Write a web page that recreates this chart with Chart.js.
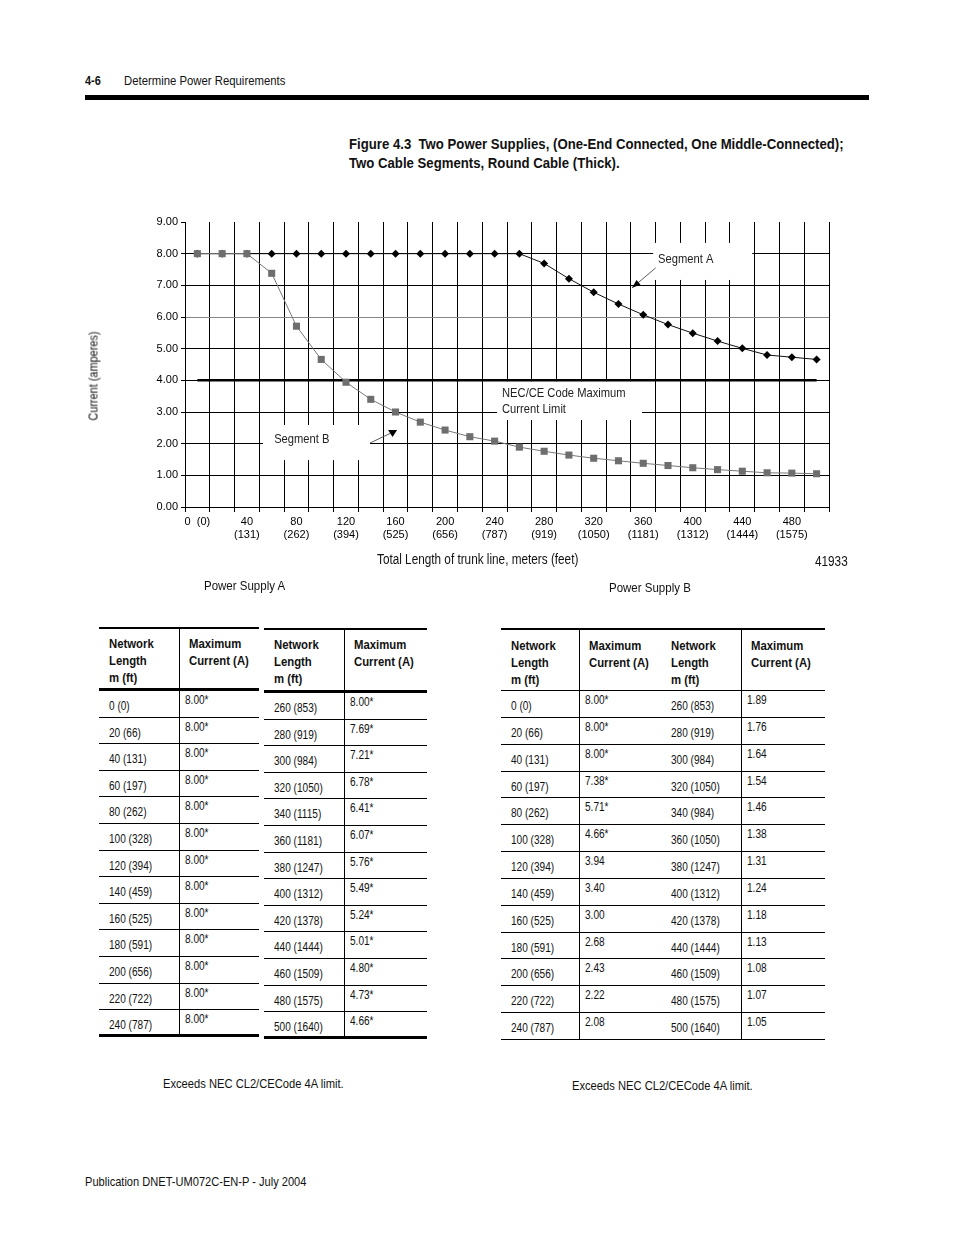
<!DOCTYPE html>
<html>
<head>
<meta charset="utf-8">
<script src="https://cdn.jsdelivr.net/npm/chart.js@4.4.0/dist/chart.umd.min.js"></script>
<style>
  body { margin: 0; background: #fff; }
  #page { position: relative; width: 954px; height: 1235px; overflow: hidden;
          font-family: "Liberation Sans", Arial, sans-serif; color: #111; }
  .t { position: absolute; white-space: nowrap; line-height: 1; transform: scaleX(0.84); transform-origin: 0 0; }
  #rule { position: absolute; left: 85px; top: 95px; width: 784px; height: 5px; background: #000; }
  #chartBox { position: absolute; left: 80px; top: 200px; width: 780px; height: 380px; }
  .tbl { position: absolute; }
  .tbl .hd { position: relative; box-sizing: border-box; font-weight: bold; font-size: 13.5px; line-height: 17px; }
  .tbl .row { position: relative; box-sizing: border-box; border-bottom: 1px solid #000; font-size: 12px; }
  .tbl span { position: absolute; white-space: nowrap; transform: scaleX(0.84); transform-origin: 0 0; }
  .vline { position: absolute; width: 1px; background: #000; }
</style>
</head>
<body>
<div id="page">
  <div class="t" style="left:85px;top:74px;font-size:13px;font-weight:bold;">4-6</div>
  <div class="t" style="left:124px;top:74px;font-size:13.5px;">Determine Power Requirements</div>
  <div id="rule"></div>
  <div class="t" style="left:349px;top:134px;font-size:15.5px;font-weight:bold;line-height:19px;transform:scaleX(0.85);">Figure 4.3&nbsp; Two Power Supplies, (One-End Connected, One Middle-Connected);<br>Two Cable Segments, Round Cable (Thick).</div>

  <div id="chartBox"><canvas id="chart" width="780" height="380"></canvas></div>
  <div class="t" style="left:93px;top:376px;font-size:13px;transform-origin:50% 50%;transform:translate(-50%,-50%) rotate(-90deg) scaleX(0.84);">Current (amperes)</div>
  <div class="t" style="left:377px;top:552px;font-size:14px;">Total Length of trunk line, meters (feet)</div>
  <div class="t" style="left:815px;top:554px;font-size:14px;">41933</div>
  <div class="t" style="left:204px;top:579px;font-size:13.7px;">Power Supply A</div>
  <div class="t" style="left:609px;top:581px;font-size:13.7px;">Power Supply B</div>

  <div id="tables"></div>

  <div class="t" style="left:163px;top:1077px;font-size:13.3px;">Exceeds NEC CL2/CECode 4A limit.</div>
  <div class="t" style="left:572px;top:1079px;font-size:13.3px;">Exceeds NEC CL2/CECode 4A limit.</div>
  <div class="t" style="left:85px;top:1175px;font-size:13.2px;">Publication DNET-UM072C-EN-P - July 2004</div>
</div>

<script>
const meters = [0, 20, 40, 60, 80, 100, 120, 140, 160, 180, 200, 220, 240,
                260, 280, 300, 320, 340, 360, 380, 400, 420, 440, 460, 480, 500];
const feet = [0, 66, 131, 197, 262, 328, 394, 459, 525, 591, 656, 722, 787,
              853, 919, 984, 1050, 1115, 1181, 1247, 1312, 1378, 1444, 1509, 1575, 1640];
const segmentA = [8.00, 8.00, 8.00, 8.00, 8.00, 8.00, 8.00, 8.00, 8.00, 8.00, 8.00, 8.00, 8.00,
                  8.00, 7.69, 7.21, 6.78, 6.41, 6.07, 5.76, 5.49, 5.24, 5.01, 4.80, 4.73, 4.66];
const segmentB = [8.00, 8.00, 8.00, 7.38, 5.71, 4.66, 3.94, 3.40, 3.00, 2.68, 2.43, 2.22, 2.08,
                  1.89, 1.76, 1.64, 1.54, 1.46, 1.38, 1.31, 1.24, 1.18, 1.13, 1.08, 1.07, 1.05];
const necLimit = 4.00;
const yMin = 0, yMax = 9, yStep = 1;
// labels as printed in the Power Supply B table (the source repeats some feet values)
const psbFeetLabels = { 340: "340 (984)", 360: "360 (1050)" };

// notes drawn on the plot, in axis units (category index, amperes)
const notes = [
  { box: [18.4, 22.4, 8.34, 7.17], lines: [["Segment A", 18.6, 7.82]],
    arrow: { from: [18.5, 7.55], to: [17.55, 6.92], head: "arrow" } },
  { box: [2.65, 6.97, 2.59, 1.48], lines: [["Segment B", 3.1, 2.15]],
    arrow: { from: [6.97, 2.02], to: [7.8, 2.33], head: "tri", tip: [7.88, 2.21] } },
  { box: [12.1, 17.95, 3.97, 2.75],
    lines: [["NEC/CE Code Maximum", 12.3, 3.6], ["Current Limit", 12.3, 3.08]] }
];

const notePlugin = {
  id: "notes",
  beforeDatasetsDraw(chart) {
    const { ctx, scales: { x, y } } = chart;
    const px = v => x.getPixelForValue(v), py = v => y.getPixelForValue(v);
    ctx.save();
    notes.forEach(n => {
      const l = px(n.box[0]), r = px(n.box[1]), t = py(n.box[2]), b = py(n.box[3]);
      ctx.fillStyle = "#fff";
      ctx.fillRect(l, t, r - l, b - t);
      ctx.fillStyle = "#222";
      ctx.font = '13.3px "Liberation Sans", Arial, sans-serif';
      ctx.textBaseline = "middle";
      n.lines.forEach(([txt, xv, yv]) => {
        ctx.save();
        ctx.translate(px(xv), py(yv));
        ctx.scale(0.84, 1);
        ctx.fillText(txt, 0, 0);
        ctx.restore();
      });
      if (n.arrow) {
        const x1 = px(n.arrow.from[0]), y1 = py(n.arrow.from[1]);
        const x2 = px(n.arrow.to[0]), y2 = py(n.arrow.to[1]);
        ctx.strokeStyle = "#333";
        ctx.lineWidth = 0.8;
        ctx.beginPath(); ctx.moveTo(x1, y1); ctx.lineTo(x2, y2); ctx.stroke();
        ctx.fillStyle = "#000";
        ctx.beginPath();
        if (n.arrow.head === "arrow") {
          const a = Math.atan2(y2 - y1, x2 - x1), s = 9;
          ctx.moveTo(x2, y2);
          ctx.lineTo(x2 - s * Math.cos(a - 0.35), y2 - s * Math.sin(a - 0.35));
          ctx.lineTo(x2 - s * Math.cos(a + 0.35), y2 - s * Math.sin(a + 0.35));
        } else {
          const tx = px(n.arrow.tip[0]), ty = py(n.arrow.tip[1]);
          ctx.moveTo(tx, ty);
          ctx.lineTo(tx - 4.5, ty - 7);
          ctx.lineTo(tx + 4.5, ty - 7);
        }
        ctx.closePath(); ctx.fill();
      }
    });
    ctx.restore();
  }
};

const tickFont = { family: '"Liberation Sans", Arial, sans-serif', size: 11 };

new Chart(document.getElementById("chart"), {
  type: "line",
  data: {
    labels: meters.map(String),
    datasets: [
      { label: "Segment B", data: segmentB, borderColor: "#777", borderWidth: 1,
        pointStyle: "rect", pointRadius: 5, pointBackgroundColor: "#6e6e6e",
        pointBorderColor: "#6e6e6e", pointBorderWidth: 0, tension: 0 },
      { label: "Segment A", data: segmentA, borderColor: "#111", borderWidth: 1,
        pointStyle: "rectRot", pointRadius: 4, pointBackgroundColor: "#000",
        pointBorderColor: "#000", pointBorderWidth: 0, tension: 0 },
      { label: "NEC/CE Code Maximum Current Limit",
        data: [{ x: String(meters[0]), y: necLimit }, { x: String(meters[meters.length - 1]), y: necLimit }],
        borderColor: "#000", borderWidth: 2.5, pointRadius: 0 }
    ]
  },
  options: {
    responsive: false,
    animation: false,
    events: [],
    layout: { padding: { left: 0, top: 22, right: 31, bottom: 0 } },
    plugins: { legend: { display: false }, tooltip: { enabled: false } },
    scales: {
      x: {
        offset: true,
        grid: { offset: true, color: "#000", lineWidth: 1, tickLength: 5, tickColor: "#000" },
        border: { color: "#000", width: 1 },
        ticks: {
          autoSkip: false, maxRotation: 0, minRotation: 0, padding: 3,
          color: "#000", font: tickFont,
          callback: (v, i) => i % 2 ? "" : (i === 0 ? "0  (0)" : [String(meters[i]), "(" + feet[i] + ")"])
        },
        afterFit: s => { s.height = 73; }
      },
      y: {
        min: yMin, max: yMax,
        grid: {
          lineWidth: 1, tickLength: 4, tickColor: "#000",
          color: c => c.tick.value === yMax ? "rgba(0,0,0,0)" : (c.tick.value === 6 ? "#888" : "#000")
        },
        border: { color: "#000", width: 1 },
        ticks: { stepSize: yStep, padding: 3, color: "#000", font: tickFont,
                 callback: v => Number(v).toFixed(2) },
        afterFit: s => { s.width = 105; }
      }
    }
  },
  plugins: [notePlugin]
});

// tables
function fmt(v) { return v.toFixed(2) + (v > necLimit ? "*" : ""); }
function lenLabel(i, overrides) {
  const m = meters[i];
  return (overrides && overrides[m]) || (m + " (" + feet[i] + ")");
}
const header = ["Network<br>Length<br>m (ft)", "Maximum<br>Current (A)"];

function buildTable(o) {
  const t = document.createElement("div");
  t.className = "tbl";
  t.style.left = o.left + "px"; t.style.top = o.top + "px"; t.style.width = o.width + "px";
  const hd = document.createElement("div");
  hd.className = "hd";
  hd.style.height = o.headH + "px";
  hd.style.borderTop = o.topB + "px solid #000";
  hd.style.borderBottom = o.headB + "px solid #000";
  o.cols.forEach((c, k) => {
    const s = document.createElement("span");
    s.innerHTML = header[k % 2];
    s.style.left = (c + 10) + "px"; s.style.top = (o.headPad) + "px";
    hd.appendChild(s);
  });
  t.appendChild(hd);
  o.rows.forEach((r, ri) => {
    const row = document.createElement("div");
    row.className = "row";
    row.style.height = o.rowH + "px";
    if (ri === o.rows.length - 1) row.style.borderBottom = o.botB + "px solid #000";
    r.forEach((txt, k) => {
      const s = document.createElement("span");
      s.textContent = txt;
      const isVal = k % 2 === 1;
      s.style.left = (o.cols[k] + (isVal ? 6 : 10)) + "px";
      s.style.top = (isVal ? 2 : 8) + "px";
      row.appendChild(s);
    });
    t.appendChild(row);
  });
  o.dividers.forEach(d => {
    const v = document.createElement("div");
    v.className = "vline";
    v.style.left = d + "px"; v.style.top = o.topB + "px";
    v.style.height = (o.headH + o.rows.length * o.rowH - o.topB) + "px";
    t.appendChild(v);
  });
  document.getElementById("tables").appendChild(t);
}

const firstHalf = meters.map((m, i) => i).filter(i => i <= 12);
const secondHalf = meters.map((m, i) => i).filter(i => i >= 13);

buildTable({ left: 99, top: 627, width: 160, cols: [0, 80], dividers: [80],
  headH: 64, topB: 2, headB: 3, botB: 3, headPad: 6, rowH: 26.6,
  rows: firstHalf.map(i => [lenLabel(i), fmt(segmentA[i])]) });
buildTable({ left: 264, top: 628, width: 163, cols: [0, 80], dividers: [80],
  headH: 65, topB: 2, headB: 3, botB: 3, headPad: 6, rowH: 26.6,
  rows: secondHalf.map(i => [lenLabel(i), fmt(segmentA[i])]) });
buildTable({ left: 501, top: 628, width: 324, cols: [0, 78, 160, 240], dividers: [78, 240],
  headH: 63, topB: 2, headB: 1, botB: 1, headPad: 7, rowH: 26.85,
  rows: firstHalf.map((i, k) => [lenLabel(i), fmt(segmentB[i]),
        lenLabel(secondHalf[k], psbFeetLabels), fmt(segmentB[secondHalf[k]])]) });
</script>
</body>
</html>
